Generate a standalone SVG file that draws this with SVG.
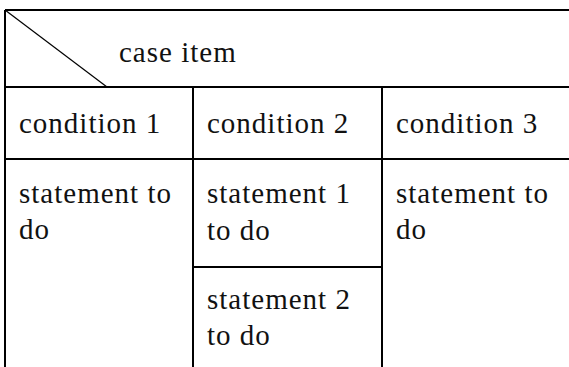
<svg xmlns="http://www.w3.org/2000/svg" width="569" height="367" viewBox="0 0 569 367">
<style>
.ln{stroke:#000;stroke-width:2;fill:none}
.dg{stroke:#000;stroke-width:1.2;fill:none}
</style>
<rect width="569" height="367" fill="#fff"/>
<g id="connectors">
<line class="ln" x1="5" y1="10" x2="569" y2="10"/>
<line class="ln" x1="5" y1="10" x2="5" y2="367"/>
<line class="ln" x1="5" y1="87" x2="569" y2="87"/>
<line class="ln" x1="5" y1="159" x2="569" y2="159"/>
<line class="ln" x1="193" y1="87" x2="193" y2="367"/>
<line class="ln" x1="382" y1="87" x2="382" y2="367"/>
<line class="ln" x1="193" y1="267" x2="382" y2="267"/>
<line class="dg" x1="5" y1="10" x2="107" y2="87"/>
</g>
<g id="header"><text x="119" y="62" font-family="Liberation Serif" font-size="29" letter-spacing="1" fill="#111">case item</text></g>
<g id="cond1"><text x="19" y="133" font-family="Liberation Serif" font-size="29" letter-spacing="1" fill="#111">condition 1</text></g>
<g id="cond2"><text x="207" y="133" font-family="Liberation Serif" font-size="29" letter-spacing="1" fill="#111">condition 2</text></g>
<g id="cond3"><text x="396" y="133" font-family="Liberation Serif" font-size="29" letter-spacing="1" fill="#111">condition 3</text></g>
<g id="stmt1"><text x="19" y="203" font-family="Liberation Serif" font-size="29" letter-spacing="1" fill="#111">statement to</text><text x="19" y="239" font-family="Liberation Serif" font-size="29" letter-spacing="1" fill="#111">do</text></g>
<g id="stmt2a"><text x="207" y="203" font-family="Liberation Serif" font-size="29" letter-spacing="1" fill="#111">statement 1</text><text x="207" y="240" font-family="Liberation Serif" font-size="29" letter-spacing="1" fill="#111">to do</text></g>
<g id="stmt2b"><text x="207" y="309" font-family="Liberation Serif" font-size="29" letter-spacing="1" fill="#111">statement 2</text><text x="207" y="345" font-family="Liberation Serif" font-size="29" letter-spacing="1" fill="#111">to do</text></g>
<g id="stmt3"><text x="396" y="203" font-family="Liberation Serif" font-size="29" letter-spacing="1" fill="#111">statement to</text><text x="396" y="239" font-family="Liberation Serif" font-size="29" letter-spacing="1" fill="#111">do</text></g>
</svg>
